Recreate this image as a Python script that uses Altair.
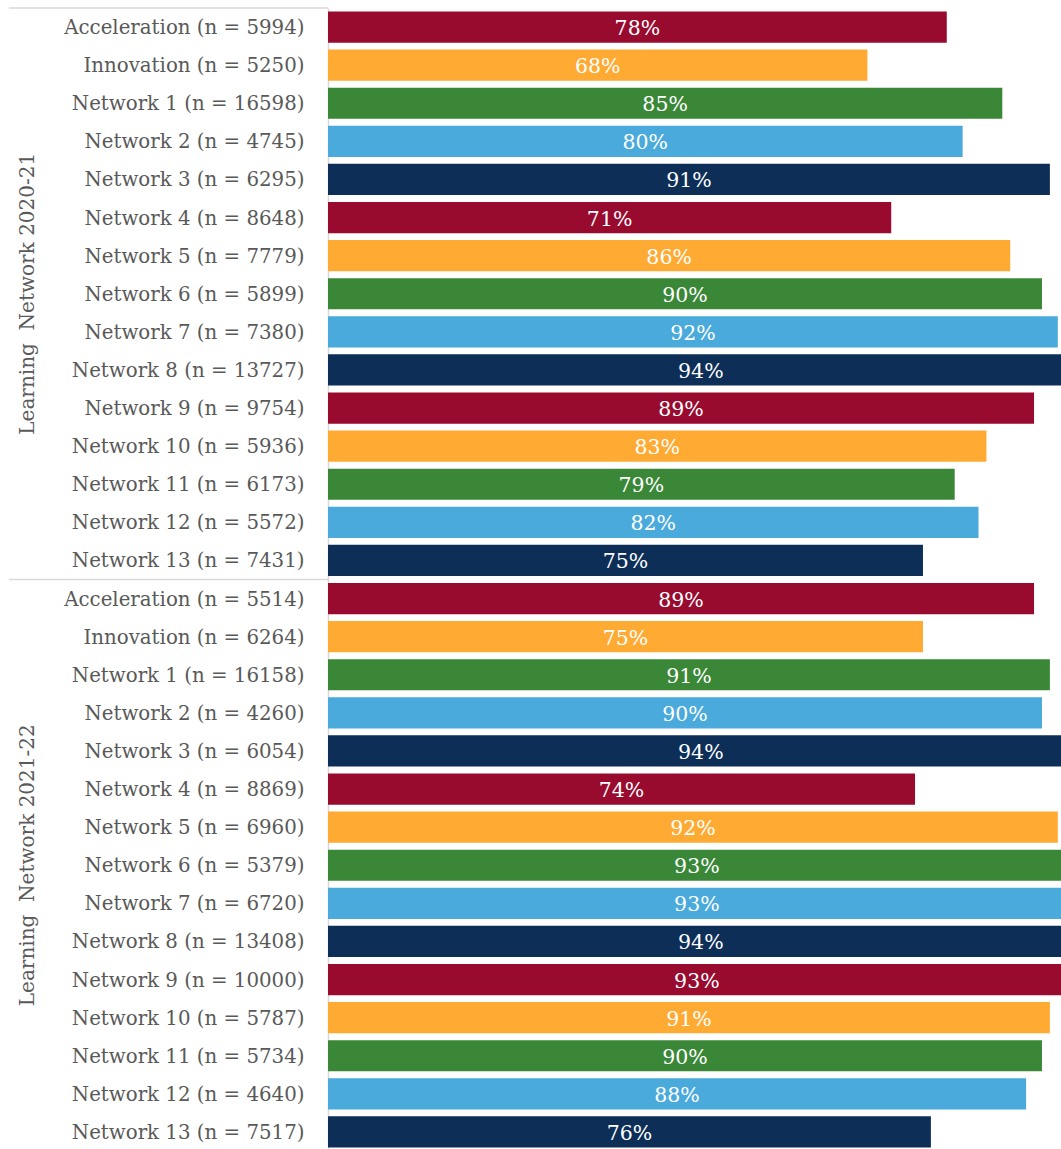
import altair as alt
import pandas as pd

# Survey results by learning network and year
years = ["Learning\u00a0 Network 2020-21"] * 15 + ["Learning\u00a0 Network 2021-22"] * 15
names = ["Acceleration", "Innovation"] + [f"Network {i}" for i in range(1, 14)]
names = names + names
counts = [5994, 5250, 16598, 4745, 6295, 8648, 7779, 5899, 7380, 13727, 9754, 5936, 6173, 5572, 7431,
          5514, 6264, 16158, 4260, 6054, 8869, 6960, 5379, 6720, 13408, 10000, 5787, 5734, 4640, 7517]
percents = [78, 68, 85, 80, 91, 71, 86, 90, 92, 94, 89, 83, 79, 82, 75,
            89, 75, 91, 90, 94, 74, 92, 93, 93, 94, 93, 91, 90, 88, 76]
palette = ["#990A2F", "#FFAA33", "#3A8837", "#49AADB", "#0C2E57"]

rows = []
for i, (g, n, c, p) in enumerate(zip(years, names, counts, percents)):
    rows.append({
        "key": f"{i:02d}|{n} (n = {c})",
        "group": g,
        "pos": i % 15,
        "pct": p,
        "mid": p / 2,
        "txt": f"{p}%",
        "shade": str(i % 5),
    })
df = pd.DataFrame(rows)
order = list(df["key"])

FONT = "DejaVu Serif"
GRAY = "#595959"
STEP = 38.1
PAD_INNER = 0.18

y_enc = alt.Y(
    "key:N",
    sort=order,
    scale=alt.Scale(paddingInner=PAD_INNER, paddingOuter=PAD_INNER / 2),
    axis=alt.Axis(
        title=None,
        labelExpr="split(datum.label, '|')[1]",
        labelFont=FONT,
        labelFontSize=19.8,
        labelColor=GRAY,
        labelPadding=24,
        labelOffset=1,
        ticks=False,
        domainColor="#D9D9D9",
        domainWidth=1.5,
        labelLimit=400,
    ),
)
x_scale = alt.Scale(domain=[0, 92.4], zero=True, nice=False)

base = alt.Chart(df)

bars = base.mark_bar(clip=True).encode(
    y=y_enc,
    x=alt.X("pct:Q", scale=x_scale, axis=None),
    color=alt.Color("shade:N", scale=alt.Scale(domain=["0", "1", "2", "3", "4"], range=palette), legend=None),
)

labels = base.mark_text(font=FONT, fontSize=20.5, color="white", align="center", baseline="middle", dy=2).encode(
    y=alt.Y("key:N", sort=order),
    x=alt.X("mid:Q", scale=x_scale),
    text="txt:N",
)

# separators along the top edge of the first row of each year
seps = base.transform_filter("datum.pos == 0").mark_rule(color="#D9D9D9", strokeWidth=1.5).encode(
    y=alt.Y("key:N", sort=order),
    yOffset=alt.value(-STEP * PAD_INNER / 2),
    x=alt.value(-319),
    x2=alt.value(0),
)

# year labels centred on each block of rows
years_txt = base.transform_filter("datum.pos == 7").mark_text(
    font=FONT, fontSize=20, color=GRAY, angle=270, align="center", baseline="middle"
).encode(
    y=alt.Y("key:N", sort=order),
    x=alt.value(-300),
    text="group:N",
)

chart = alt.layer(bars, labels, seps, years_txt).properties(
    width=733,
    height=STEP * 30,
    autosize=alt.AutoSizeParams(type="none"),
    padding={"left": 328, "top": 8, "right": 0, "bottom": 0},
).configure_view(stroke=None)

chart.save("out.html", embed_options={"renderer": "svg", "actions": False})
